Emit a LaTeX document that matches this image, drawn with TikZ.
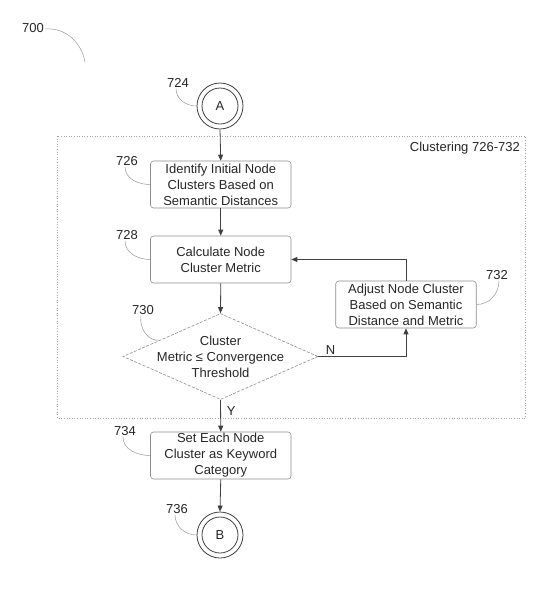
\documentclass[tikz,border=0pt]{standalone}
\usepackage{fontspec}
\setmainfont{Liberation Sans}
\usetikzlibrary{arrows.meta,shapes.geometric,calc}
\begin{document}
\begin{tikzpicture}[x=1pt,y=-1pt,
  txt/.style={font=\fontsize{13pt}{16pt}\selectfont, text=black!85},
  box/.style={txt, draw=black!45, line width=0.6pt, rounded corners=3pt, minimum width=140.5pt, minimum height=47pt, align=center, inner sep=1pt},
  conn/.style={draw=black!75, line width=0.8pt, -{Triangle[length=6pt,width=5pt]}},
  lead/.style={draw=black!40, line width=0.5pt},
  lbl/.style={txt, inner sep=1pt},
  term/.style={txt, circle, draw=black!75, line width=0.8pt, minimum size=46pt, inner sep=0pt}]
\useasboundingbox (0,0) rectangle (545,600);
% container
\draw[draw=black!35, line width=0.6pt, dotted] (57.5,136) rectangle (525,418);
\node[lbl, anchor=east] (clus) at (521,148) {Clustering 726-732};
% nodes
\node[term] (A) at (220,106) {A};
\draw[draw=black!75, line width=0.8pt] (A.center) circle (18pt);
\node[box] (b726) at (220.75,184.5) {Identify Initial Node\\Clusters Based on\\Semantic Distances};
\node[box] (b728) at (220.75,259.5) {Calculate Node\\Cluster Metric};
\node[diamond, draw=black!45, line width=0.6pt, dash pattern=on 3pt off 1.5pt, minimum width=195pt, minimum height=86pt, inner sep=0pt] (d730) at (220.5,356.5) {};
\node[txt, align=center] (d730t) at (d730.center) {Cluster\\Metric ≤ Convergence\\Threshold};
\node[box] (b732) at (406,304.5) {Adjust Node Cluster\\Based on Semantic\\Distance and Metric};
\node[box] (b734) at (220.75,455.5) {Set Each Node\\Cluster as Keyword\\Category};
\node[term] (B) at (220,535) {B};
\draw[draw=black!75, line width=0.8pt] (B.center) circle (18pt);
% connectors
\draw[conn] (A.south) -- (b726.north);
\draw[conn] (b726.south) -- (b728.north);
\draw[conn] (b728.south) -- (d730.north);
\draw[conn] (d730.east) -| node[lbl, pos=0.07, above, yshift=1pt] (N) {N} (b732.south);
\draw[conn] (b732.north) |- (b728.east);
\draw[conn] (d730.south) -- node[lbl, pos=0.35, right, xshift=5pt] (Y) {Y} (b734.north);
\draw[conn] (b734.south) -- (B.north);
% labels and leaders
\node[lbl] (l700) at (33,28) {700};
\coordinate (e700) at (85,62);
\draw[lead] ([yshift=-1pt]l700.east) to[out=5,in=100] (e700);
\node[lbl] (l724) at (178,83) {724};
\draw[lead] ([xshift=-2pt]l724.south) to[out=-90,in=180] (A.west);
\node[lbl] (l726) at (127,161) {726};
\draw[lead] ([xshift=-2pt]l726.south) to[out=-90,in=180] (b726.west);
\node[lbl] (l728) at (127,235) {728};
\draw[lead] ([xshift=-2pt]l728.south) to[out=-90,in=180] (b728.west);
\node[lbl] (l730) at (143,310) {730};
\coordinate (e730) at ($(d730.west)!0.38!(d730.north)$);
\draw[lead] ([xshift=-2pt]l730.south) to[out=-100,in=190] (e730);
\node[lbl] (l732) at (497,275) {732};
\draw[lead] ([xshift=2pt]l732.south) to[out=-90,in=0] (b732.east);
\node[lbl] (l734) at (125,431) {734};
\draw[lead] ([xshift=-2pt]l734.south) to[out=-90,in=180] (b734.west);
\node[lbl] (l736) at (177,509) {736};
\draw[lead] ([xshift=-2pt]l736.south) to[out=-90,in=180] (B.west);
\end{tikzpicture}
\end{document}
